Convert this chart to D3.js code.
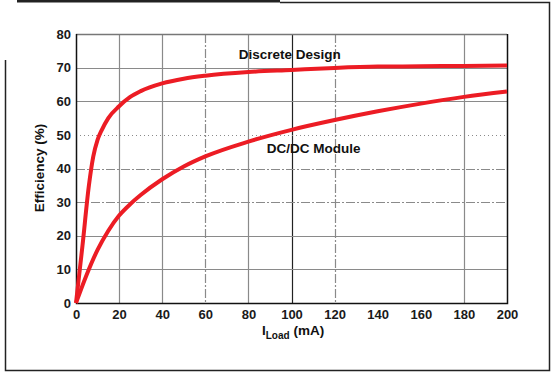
<!DOCTYPE html>
<html>
<head>
<meta charset="utf-8">
<script src="https://cdn.jsdelivr.net/npm/d3@7"></script>
<style>
  body { margin: 0; background: #fff; }
  svg { display: block; font-family: "Liberation Sans", Arial, sans-serif; }
</style>
</head>
<body>
<div id="chart"></div>
<script>
// load current (mA) and efficiency (%)
var discreteLoad = [0, 3, 6, 8, 10, 12, 15, 20, 25, 30, 40, 50, 60, 80, 100, 120, 140, 160, 180, 200];
var discreteEff  = [0, 17, 35, 43.5, 48.5, 51.5, 55, 58.5, 61.2, 63, 65.3, 66.7, 67.6, 68.7, 69.3, 69.9, 70.3, 70.4, 70.5, 70.6];
var moduleLoad = [0, 5, 10, 15, 20, 25, 30, 40, 50, 60, 80, 100, 120, 140, 160, 180, 200];
var moduleEff  = [0, 8.5, 15.8, 21.5, 26, 29.3, 32.1, 36.8, 40.6, 43.6, 48, 51.5, 54.4, 57, 59.3, 61.3, 62.9];
var xTicks = [0, 20, 40, 60, 80, 100, 120, 140, 160, 180, 200];
var yTicks = [0, 10, 20, 30, 40, 50, 60, 70, 80];
var seriesNames = ["Discrete Design", "DC/DC Module"];

var W = 553, H = 375;
var margin = { top: 34, right: 46, bottom: 72, left: 76 },
    width = W - margin.left - margin.right,
    height = H - margin.top - margin.bottom;

var svg = d3.select("#chart").append("svg")
    .attr("width", W)
    .attr("height", H);

// outer frame of the scanned figure
svg.append("line").attr("x1", 17).attr("x2", 280).attr("y1", 1).attr("y2", 1)
    .attr("stroke", "#222").attr("stroke-width", 3);
svg.append("path")
    .attr("d", "M280,2.5H549.5V370.5H5.5V60")
    .attr("fill", "none").attr("stroke", "#222").attr("stroke-width", 1.5);

var inner = svg.append("g")
    .attr("transform", "translate(" + margin.left + "," + margin.top + ")");

var x = d3.scaleLinear().domain([0, 200]).range([0, width]);
var y = d3.scaleLinear().domain([0, 80]).range([height, 0]);

// grid lines (the original has a mix of solid, dash-dot and dotted)
var vStyle = { 20: "solid", 40: "solid", 60: "dashdot", 80: "solid", 100: "black", 120: "dashdot", 180: "solid" };
var hStyle = { 10: "solid", 20: "solid", 30: "dashdot", 40: "dashdot", 50: "dotted", 60: "solid", 70: "solid" };
function dash(s) {
  if (s == "dashdot") return "9,2,2,2";
  if (s == "dotted") return "1,3";
  return null;
}

inner.selectAll(".vgrid")
    .data(xTicks.filter(function (d) { return vStyle[d]; }))
    .enter().append("line")
    .attr("class", "vgrid")
    .attr("x1", function (d) { return Math.round(x(d)) + 0.5; })
    .attr("x2", function (d) { return Math.round(x(d)) + 0.5; })
    .attr("y1", 0).attr("y2", height)
    .attr("stroke", function (d) { return vStyle[d] == "black" ? "#222" : "#8a8a8a"; })
    .attr("stroke-width", 1.2)
    .attr("stroke-dasharray", function (d) { return dash(vStyle[d]); });

inner.selectAll(".hgrid")
    .data(yTicks.filter(function (d) { return hStyle[d]; }))
    .enter().append("line")
    .attr("class", "hgrid")
    .attr("x1", 0).attr("x2", width)
    .attr("y1", function (d) { return Math.round(y(d)) + 0.5; })
    .attr("y2", function (d) { return Math.round(y(d)) + 0.5; })
    .attr("stroke", "#8a8a8a")
    .attr("stroke-width", 1.2)
    .attr("stroke-dasharray", function (d) { return dash(hStyle[d]); });

// plot box
inner.append("line").attr("x1", 0).attr("x2", width).attr("y1", 0.5).attr("y2", 0.5)
    .attr("stroke", "#777").attr("stroke-width", 1.5);
inner.append("path")
    .attr("d", "M0.5,0V" + (height + 0.5) + "H" + (width + 0.5) + "V0")
    .attr("fill", "none").attr("stroke", "#111").attr("stroke-width", 1.5);

// axes (labels only; the box is drawn above)
var xAxis = inner.append("g")
    .attr("transform", "translate(0," + height + ")")
    .call(d3.axisBottom(x).tickValues(xTicks).tickSize(0).tickPadding(7));
var yAxis = inner.append("g")
    .call(d3.axisLeft(y).tickValues(yTicks).tickSize(0).tickPadding(5));
[xAxis, yAxis].forEach(function (a) {
  a.select(".domain").remove();
  a.selectAll("text")
    .attr("fill", "#1a1a1a")
    .style("font-size", "13px")
    .style("font-weight", "bold")
    .style("font-family", "'Liberation Sans', Arial, sans-serif");
});

// curves
var line = d3.line()
    .x(function (d) { return x(d[0]); })
    .y(function (d) { return y(d[1]); })
    .curve(d3.curveMonotoneX);

var series = [
  d3.zip(discreteLoad, discreteEff),
  d3.zip(moduleLoad, moduleEff)
];

inner.selectAll(".curve")
    .data(series)
    .enter().append("path")
    .attr("class", "curve")
    .attr("d", line)
    .attr("fill", "none")
    .attr("stroke", "#ec1c24")
    .attr("stroke-width", 4)
    .attr("stroke-linejoin", "round");

// curve labels
inner.append("text")
    .attr("x", x(75.5)).attr("y", y(72.5))
    .style("font-size", "13.5px")
    .style("font-weight", "bold")
    .attr("fill", "#111")
    .text(seriesNames[0]);
inner.append("text")
    .attr("x", x(88.5)).attr("y", y(44.6))
    .style("font-size", "13.5px")
    .style("font-weight", "bold")
    .attr("fill", "#111")
    .text(seriesNames[1]);

// axis titles
var xt = svg.append("text")
    .attr("x", 262).attr("y", 335)
    .attr("fill", "#111")
    .style("font-size", "13.5px")
    .style("font-weight", "bold");
xt.append("tspan").text("I");
xt.append("tspan").attr("dy", 4).style("font-size", "10px").text("Load");
xt.append("tspan").attr("dy", -4).text(" (mA)");

svg.append("text")
    .attr("transform", "translate(44,168) rotate(-90)")
    .attr("text-anchor", "middle")
    .attr("fill", "#111")
    .style("font-size", "13.5px")
    .style("font-weight", "bold")
    .text("Efficiency (%)");
</script>
</body>
</html>
